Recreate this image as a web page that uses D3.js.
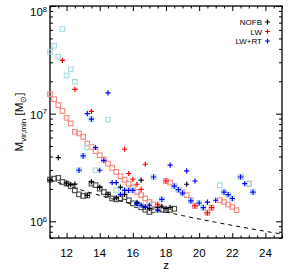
<!DOCTYPE html>
<html>
<head>
<meta charset="utf-8">
<script src="https://cdn.jsdelivr.net/npm/d3@7"></script>
<style>
  body { margin: 0; background: #fff; }
  svg { display: block; font-family: "Liberation Sans", Arial, sans-serif; }
</style>
</head>
<body>
<svg width="293" height="273"></svg>
<script>
const width = 293;
const height = 273;
const margin = { top: 6, right: 11, bottom: 35, left: 50 };

//--------------------data--------------------
// redshift ticks and y decades
const zTicks = [12, 14, 16, 18, 20, 22, 24];
const yDecades = [6, 7, 8];

// NOFB (black)
const nofbSqZ = [11, 11.25, 11.5, 11.75, 12, 12.25, 12.5, 12.75, 13, 13.25, 13.5, 13.75, 14, 14.25, 14.5, 14.75, 15, 15.25, 15.5, 15.75, 16, 16.25, 16.5, 16.75, 17, 17.25, 17.5, 17.75, 18, 18.25, 18.5];
const nofbSqM = [2.44e6, 2.49e6, 2.53e6, 2.32e6, 2.24e6, 2.12e6, 1.94e6, 1.78e6, 1.72e6, 1.74e6, 2.24e6, 2.17e6, 2.01e6, 1.87e6, 1.77e6, 1.63e6, 1.60e6, 1.63e6, 1.68e6, 1.57e6, 1.47e6, 1.41e6, 1.35e6, 1.28e6, 1.22e6, 1.27e6, 1.28e6, 1.28e6, 1.27e6, 1.28e6, 1.31e6];
const nofbZ = [11, 11.5, 12, 12.25, 12.5, 13.25, 13.5, 14, 14.5, 15, 15.25, 15.5, 16.25, 16.5, 16.75, 17, 17.5, 17.75, 18, 18.25, 19.25];
const nofbM = [2.41e6, 3.91e6, 2.26e6, 2.19e6, 2.22e6, 1.74e6, 2.32e6, 2.07e6, 1.78e6, 1.65e6, 2.08e6, 1.78e6, 1.50e6, 2.41e6, 1.35e6, 1.32e6, 1.35e6, 1.38e6, 1.32e6, 1.35e6, 2.21e6];

// LW (red)
const lwSqZ = [11, 11.25, 11.5, 11.75, 12, 12.25, 12.5, 12.75, 13, 13.25, 13.5, 13.75, 14, 14.25, 14.5, 14.75, 15, 15.25, 15.5, 15.75, 16, 16.25, 16.5, 16.75, 17, 17.25, 17.5, 18, 18.25, 18.5, 18.75, 19, 19.25, 19.5, 19.75, 20.5, 20.75, 21.25, 21.5, 21.75, 22, 22.25, 22.5, 23];
const lwSqM = [1.52e7, 1.36e7, 1.20e7, 1.06e7, 9.14e6, 8.11e6, 6.78e6, 6.55e6, 6.08e6, 5.28e6, 4.91e6, 4.48e6, 4.11e6, 3.75e6, 3.44e6, 3.13e6, 2.88e6, 2.62e6, 2.44e6, 2.24e6, 2.06e6, 1.87e6, 1.75e6, 1.63e6, 1.51e6, 1.44e6, 1.35e6, 2.37e6, 2.29e6, 2.12e6, 1.96e6, 1.86e6, 1.75e6, 1.57e6, 1.39e6, 1.20e6, 1.34e6, 1.57e6, 1.51e6, 1.43e6, 1.36e6, 1.27e6, 2.58e6, 2.24e6];
const lwZ = [11.75, 12.5, 13.5, 15.5, 15.75, 16, 16.25, 16.5, 16.75, 17.5, 18, 19.75, 20.5, 20.75];
const lwM = [3.12e7, 1.68e7, 1.05e7, 4.67e6, 2.78e6, 2.46e6, 2.21e6, 1.98e6, 3.39e6, 1.44e6, 2.37e6, 1.39e6, 1.20e6, 1.34e6];

// LW+RT (blue)
const rtSqZ = [11, 11.25, 11.5, 11.75, 12, 12.25, 12.5, 12.75, 13, 13.25, 13.5, 13.75, 14.5, 15, 15.5, 15.75, 16, 16.25, 16.5, 17, 17.25, 17.5, 17.75, 18.5, 18.75, 19, 19.5, 20, 20.25, 21.25, 21.5, 21.75, 22, 22.5, 23, 23.25];
const rtSqM = [3.76e7, 4.28e7, 3.38e7, 6.11e7, 2.26e7, 2.58e7, 1.98e7, 2.98e6, 4.05e6, 4.85e6, 8.9e6, 2.98e6, 8.8e6, 1.94e6, 1.94e6, 1.94e6, 1.94e6, 1.46e6, 1.41e6, 1.41e6, 2.58e6, 1.27e6, 1.60e6, 2.12e6, 1.97e6, 1.83e6, 1.55e6, 1.48e6, 1.34e6, 2.16e6, 1.87e6, 1.77e6, 1.63e6, 2.58e6, 2.24e6, 1.87e6];
const rtZ = [12.75, 13, 13.25, 13.5, 13.75, 14, 14.25, 14.5, 14.75, 15, 15.25, 15.5, 15.75, 16, 16.25, 16.5, 16.75, 17, 17.25, 17.5, 17.75, 18.25, 18.5, 18.75, 19, 19.25, 19.5, 19.75, 20, 20.25, 20.5, 21, 21.5, 21.75, 22, 22.5, 22.75, 23.25];
const rtM = [2.98e6, 4.05e6, 1.0e7, 8.9e6, 4.85e6, 2.98e6, 3.69e6, 1.56e7, 2.29e6, 2.29e6, 1.78e6, 1.94e6, 1.94e6, 1.94e6, 1.46e6, 1.41e6, 1.36e6, 1.41e6, 2.58e6, 1.27e6, 1.60e6, 3.32e6, 2.12e6, 1.97e6, 1.83e6, 2.94e6, 1.55e6, 2.37e6, 1.48e6, 1.34e6, 1.51e6, 1.57e6, 1.87e6, 1.77e6, 1.63e6, 2.58e6, 2.24e6, 1.87e6];

// dashed threshold curve
const threshZ = [11, 13, 15, 17, 19, 21, 23, 25];
const threshM = [2.43e6, 1.93e6, 1.58e6, 1.32e6, 1.13e6, 9.8e5, 8.6e5, 7.6e5];

const legendNames = ["NOFB", "LW", "LW+RT"];
const legendColors = ["#000000", "#ff0000", "#0000ff"];

//--------------------scales--------------------
const svg = d3.select("svg");
const x = d3.scaleLinear().domain([11, 25]).range([margin.left, width - margin.right]);
const y = d3.scaleLog().domain([7.0e5, 1e8]).range([height - margin.bottom, margin.top]);

const pw = width - margin.left - margin.right;
const ph = height - margin.top - margin.bottom;

//--------------------axes (ticks inside, on all four sides)--------------------
const xMinor = d3.range(11, 25.01, 0.5).filter(v => zTicks.indexOf(v) < 0);
const yMinor = [];
[5, 6, 7].forEach(e => { for (let k = 2; k <= 9; k++) yMinor.push(k * Math.pow(10, e)); });
const yMinorIn = yMinor.filter(v => v >= 7.0e5 && v <= 1e8);
const yMajor = yDecades.map(e => Math.pow(10, e));

function tickG(axis, transform) {
    const g = svg.append("g").attr("transform", transform).call(axis);
    g.select(".domain").remove();
    g.selectAll("line").attr("stroke", "#000").attr("stroke-width", 1);
    return g;
}

// bottom
tickG(d3.axisBottom(x).tickValues(zTicks).tickSize(-5).tickFormat(""), `translate(0,${height - margin.bottom})`);
tickG(d3.axisBottom(x).tickValues(xMinor).tickSize(-2.5).tickFormat(""), `translate(0,${height - margin.bottom})`);
// top
tickG(d3.axisTop(x).tickValues(zTicks).tickSize(-5).tickFormat(""), `translate(0,${margin.top})`);
tickG(d3.axisTop(x).tickValues(xMinor).tickSize(-2.5).tickFormat(""), `translate(0,${margin.top})`);
// left
tickG(d3.axisLeft(y).tickValues(yMajor).tickSize(-6).tickFormat(""), `translate(${margin.left},0)`);
tickG(d3.axisLeft(y).tickValues(yMinorIn).tickSize(-3).tickFormat(""), `translate(${margin.left},0)`);
// right
tickG(d3.axisRight(y).tickValues(yMajor).tickSize(-6).tickFormat(""), `translate(${width - margin.right},0)`);
tickG(d3.axisRight(y).tickValues(yMinorIn).tickSize(-3).tickFormat(""), `translate(${width - margin.right},0)`);

// frame
svg.append("rect")
    .attr("x", margin.left).attr("y", margin.top)
    .attr("width", pw).attr("height", ph)
    .attr("fill", "none").attr("stroke", "#000").attr("stroke-width", 1.3);

// x tick labels
svg.append("g").selectAll("text").data(zTicks).enter().append("text")
    .attr("x", d => x(d)).attr("y", height - margin.bottom + 19)
    .attr("text-anchor", "middle").attr("font-size", 11.5)
    .text(d => d);

// y tick labels 10^n (top one pushed down to stay inside the window)
yDecades.forEach(e => {
    const ty = Math.max(y(Math.pow(10, e)) + 5, 16);
    const t = svg.append("text")
        .attr("x", margin.left - 3).attr("y", ty)
        .attr("text-anchor", "end").attr("font-size", 11.5);
    t.append("tspan").text("10");
    t.append("tspan").attr("font-size", 7.5).attr("dy", -4.5).text(e);
});

// axis titles
svg.append("text")
    .attr("x", margin.left + pw / 2).attr("y", height - 4)
    .attr("text-anchor", "middle").attr("font-size", 11.5)
    .text("z");

const yt = svg.append("text")
    .attr("transform", `translate(23,${margin.top + ph / 2}) rotate(-90)`)
    .attr("text-anchor", "middle").attr("font-size", 11.5);
yt.append("tspan").text("M");
yt.append("tspan").attr("font-size", 8).attr("dy", 3).text("vir,min");
yt.append("tspan").attr("dy", -3).text(" [M");
yt.append("tspan").attr("font-size", 8).attr("dy", 3).text("\u2299");
yt.append("tspan").attr("dy", -3).text("]");

//--------------------marks--------------------
const plot = svg.append("g");
const sq = 4.6;

function drawSquares(zs, ms, color) {
    plot.append("g").selectAll("rect").data(zs).enter().append("rect")
        .attr("x", (d, i) => x(d) - sq / 2)
        .attr("y", (d, i) => y(ms[i]) - sq / 2)
        .attr("width", sq).attr("height", sq)
        .attr("fill", "none").attr("stroke", color).attr("stroke-width", 1.1);
}

function plusPath(cx, cy, r) {
    return `M${cx - r},${cy}H${cx + r}M${cx},${cy - r}V${cy + r}`;
}

function drawPluses(zs, ms, color) {
    plot.append("g").selectAll("path").data(zs).enter().append("path")
        .attr("d", (d, i) => plusPath(x(d), y(ms[i]), 2.6))
        .attr("fill", "none").attr("stroke", color).attr("stroke-width", 1.2);
}

drawSquares(nofbSqZ, nofbSqM, "#4a4a4a");
drawSquares(lwSqZ, lwSqM, "#f5857e");
drawSquares(rtSqZ, rtSqM, "#a3dce2");

// dashed curve
const line = d3.line().x(d => x(d[0])).y(d => y(d[1])).curve(d3.curveMonotoneX);
plot.append("path")
    .datum(threshZ.map((z, i) => [z, threshM[i]]))
    .attr("d", line)
    .attr("fill", "none").attr("stroke", "#000").attr("stroke-width", 1)
    .attr("stroke-dasharray", "4,4");

drawPluses(nofbZ, nofbM, "#000000");
drawPluses(lwZ, lwM, "#ff0000");
drawPluses(rtZ, rtM, "#0000ff");

//--------------------legend--------------------
const leg = svg.append("g");
legendNames.forEach((name, i) => {
    const ly = 22 + i * 9.5;
    leg.append("text")
        .attr("x", 262).attr("y", ly + 3)
        .attr("text-anchor", "end").attr("font-size", 8)
        .text(name);
    leg.append("path")
        .attr("d", plusPath(267.5, ly, 2.6))
        .attr("stroke", legendColors[i]).attr("stroke-width", 1.2);
});
</script>
</body>
</html>
